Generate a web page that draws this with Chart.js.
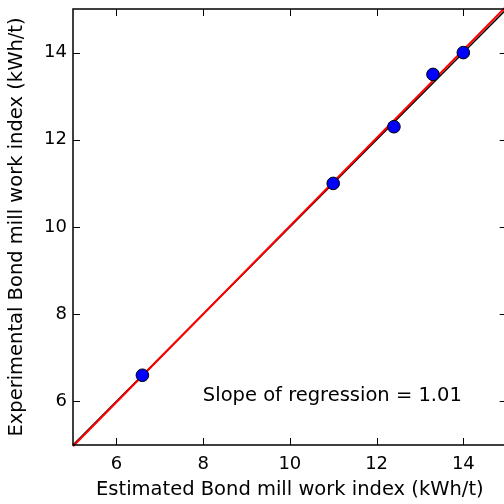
<!DOCTYPE html>
<html>
<head>
<meta charset="utf-8">
<script src="https://cdn.jsdelivr.net/npm/chart.js@4/dist/chart.umd.min.js"></script>
<style>
  html, body { margin: 0; padding: 0; background: #fff; overflow: hidden; }
  #wrap { width: 504px; height: 504px; overflow: hidden; }
</style>
</head>
<body>
<div id="wrap"><canvas id="chart" width="514" height="504"></canvas></div>
<script>
// Work index data (kWh/t)
const estimated = [6.6, 11.0, 12.4, 13.3, 14.0];
const experimental = [6.6, 11.0, 12.3, 13.5, 14.0];
const xTicks = [6, 8, 10, 12, 14];
const yTicks = [6, 8, 10, 12, 14];
const axisMin = 5, axisMax = 15;

// regression fit
const slope = 1.01;
const intercept = -0.08;
const slopeLabel = "Slope of regression = " + slope.toFixed(2);

const FONT = "'DejaVu Sans', sans-serif";
const TEXT_SIZE = 19.5;
const TICK_SIZE = 18;

const points = estimated.map((x, i) => ({ x: x, y: experimental[i] }));
const identity = [{ x: axisMin, y: axisMin }, { x: axisMax, y: axisMax }];
const fit = [axisMin, axisMax].map(x => ({ x: x, y: slope * x + intercept }));

// frame with inward ticks on all four sides, plus the slope note
const framePlugin = {
  id: 'frame',
  afterDraw(chart) {
    const ctx = chart.ctx;
    const a = chart.chartArea;
    const xs = chart.scales.x, ys = chart.scales.y;
    const len = 7;
    ctx.save();
    ctx.strokeStyle = '#000';
    ctx.lineWidth = 1;
    ctx.beginPath();
    xTicks.forEach(v => {
      const px = Math.round(xs.getPixelForValue(v)) + 0.5;
      ctx.moveTo(px, a.bottom); ctx.lineTo(px, a.bottom - len);
      ctx.moveTo(px, a.top); ctx.lineTo(px, a.top + len);
    });
    yTicks.forEach(v => {
      const py = Math.round(ys.getPixelForValue(v)) + 0.5;
      ctx.moveTo(a.left, py); ctx.lineTo(a.left + len, py);
      ctx.moveTo(a.right, py); ctx.lineTo(a.right - len, py);
    });
    ctx.stroke();
    ctx.lineWidth = 1.5;
    ctx.strokeRect(a.left, a.top, a.right - a.left, a.bottom - a.top);

    ctx.fillStyle = '#000';
    ctx.font = TEXT_SIZE + 'px ' + FONT;
    ctx.textAlign = 'center';
    ctx.textBaseline = 'alphabetic';
    ctx.fillText(slopeLabel, xs.getPixelForValue(10.98), ys.getPixelForValue(6));
    ctx.restore();
  }
};

new Chart(document.getElementById('chart').getContext('2d'), {
  type: 'scatter',
  data: {
    datasets: [
      {
        label: '1:1',
        data: identity,
        showLine: true,
        borderColor: '#000',
        borderWidth: 1.5,
        pointRadius: 0,
        order: 3
      },
      {
        label: 'Regression',
        data: fit,
        showLine: true,
        borderColor: '#ff0000',
        borderWidth: 2,
        pointRadius: 0,
        order: 2
      },
      {
        label: 'Samples',
        data: points,
        backgroundColor: '#0000ff',
        borderColor: '#000',
        borderWidth: 1,
        pointRadius: 6.3,
        pointHoverRadius: 6.3,
        order: 1
      }
    ]
  },
  options: {
    responsive: false,
    animation: false,
    clip: false,
    layout: { padding: { top: 9, right: 5, left: 0, bottom: 0 } },
    plugins: { legend: { display: false }, tooltip: { enabled: false } },
    scales: {
      x: {
        type: 'linear',
        min: axisMin,
        max: axisMax,
        afterBuildTicks: s => { s.ticks = xTicks.map(v => ({ value: v })); },
        afterFit: s => { s.height = 59; s.paddingLeft = 0; s.paddingRight = 0; },
        grid: { display: false, drawTicks: false },
        border: { display: false },
        ticks: { color: '#000', font: { family: FONT, size: TICK_SIZE }, padding: 9, maxRotation: 0 },
        title: {
          display: true,
          text: 'Estimated Bond mill work index (kWh/t)',
          color: '#000',
          font: { family: FONT, size: TEXT_SIZE },
          padding: { top: 0, bottom: 2 }
        }
      },
      y: {
        type: 'linear',
        min: axisMin,
        max: axisMax,
        afterBuildTicks: s => { s.ticks = yTicks.map(v => ({ value: v })); },
        afterFit: s => { s.width = 73; s.paddingTop = 0; s.paddingBottom = 0; },
        grid: { display: false, drawTicks: false },
        border: { display: false },
        ticks: { color: '#000', font: { family: FONT, size: TICK_SIZE }, padding: 6 },
        title: {
          display: true,
          text: 'Experimental Bond mill work index (kWh/t)',
          color: '#000',
          font: { family: FONT, size: TEXT_SIZE },
          padding: { top: 5, bottom: 0 }
        }
      }
    }
  },
  plugins: [framePlugin]
});
</script>
</body>
</html>
